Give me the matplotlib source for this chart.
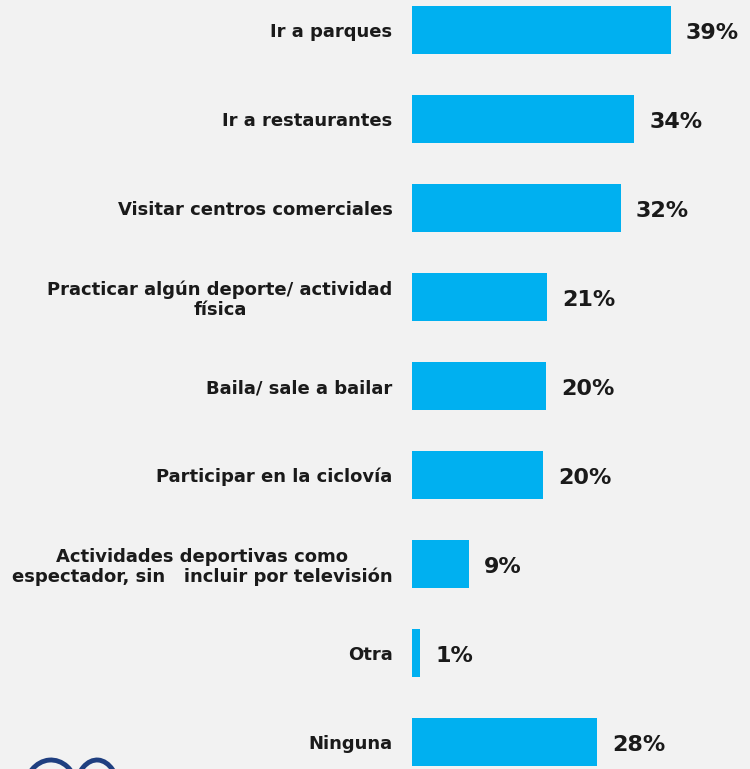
import matplotlib
matplotlib.use("Agg")
import matplotlib.pyplot as plt
from matplotlib.patches import Arc

# categories (top to bottom) and values
categories = [
    "Ir a parques",
    "Ir a restaurantes",
    "Visitar centros comerciales",
    "Practicar algún deporte/ actividad\nfísica",
    "Baila/ sale a bailar",
    "Participar en la ciclovía",
    "Actividades deportivas como\nespectador, sin   incluir por televisión",
    "Otra",
    "Ninguna",
]
values = [39.2, 33.7, 31.6, 20.5, 20.3, 19.9, 8.6, 1.2, 28.0]
value_labels = ["39%", "34%", "32%", "21%", "20%", "20%", "9%", "1%", "28%"]

bg = "#f2f2f2"
bar_color = "#00b0f0"
text_color = "#1a1a1a"

fig = plt.figure(figsize=(7.5, 7.69), dpi=100, facecolor=bg)
ax = fig.add_axes([412 / 750, 0, 338 / 750, 1])
ax.set_facecolor(bg)

pos = list(range(len(categories)))
ax.barh(pos, values, height=0.53, color=bar_color)

for p, v, lab in zip(pos, values, value_labels):
    ax.annotate(lab, (v, p), xytext=(11, -2), textcoords="offset points",
                va="center", ha="left", fontsize=16, fontweight="bold",
                color=text_color)

ax.set_xlim(0, 51.2)
ax.set_ylim(8.303, -0.337)
ax.set_yticks(pos)
ax.set_yticklabels(categories, fontsize=13, fontweight="bold",
                   color=text_color, multialignment="center",
                   linespacing=1.1)
ax.tick_params(axis="y", length=0, pad=14)
ax.set_xticks([])
for s in ax.spines.values():
    s.set_visible(False)

# partial logo in the bottom-left corner
logo = "#1f3f80"
fig.patches.append(Arc((0.51, -0.24), 0.54, 0.66, theta1=15, theta2=175,
                       transform=fig.dpi_scale_trans, color=logo, lw=3.5))
fig.patches.append(Arc((0.97, -0.24), 0.44, 0.66, theta1=5, theta2=165,
                       transform=fig.dpi_scale_trans, color=logo, lw=3.5))

fig.savefig("out.png", dpi=100, facecolor=bg)
